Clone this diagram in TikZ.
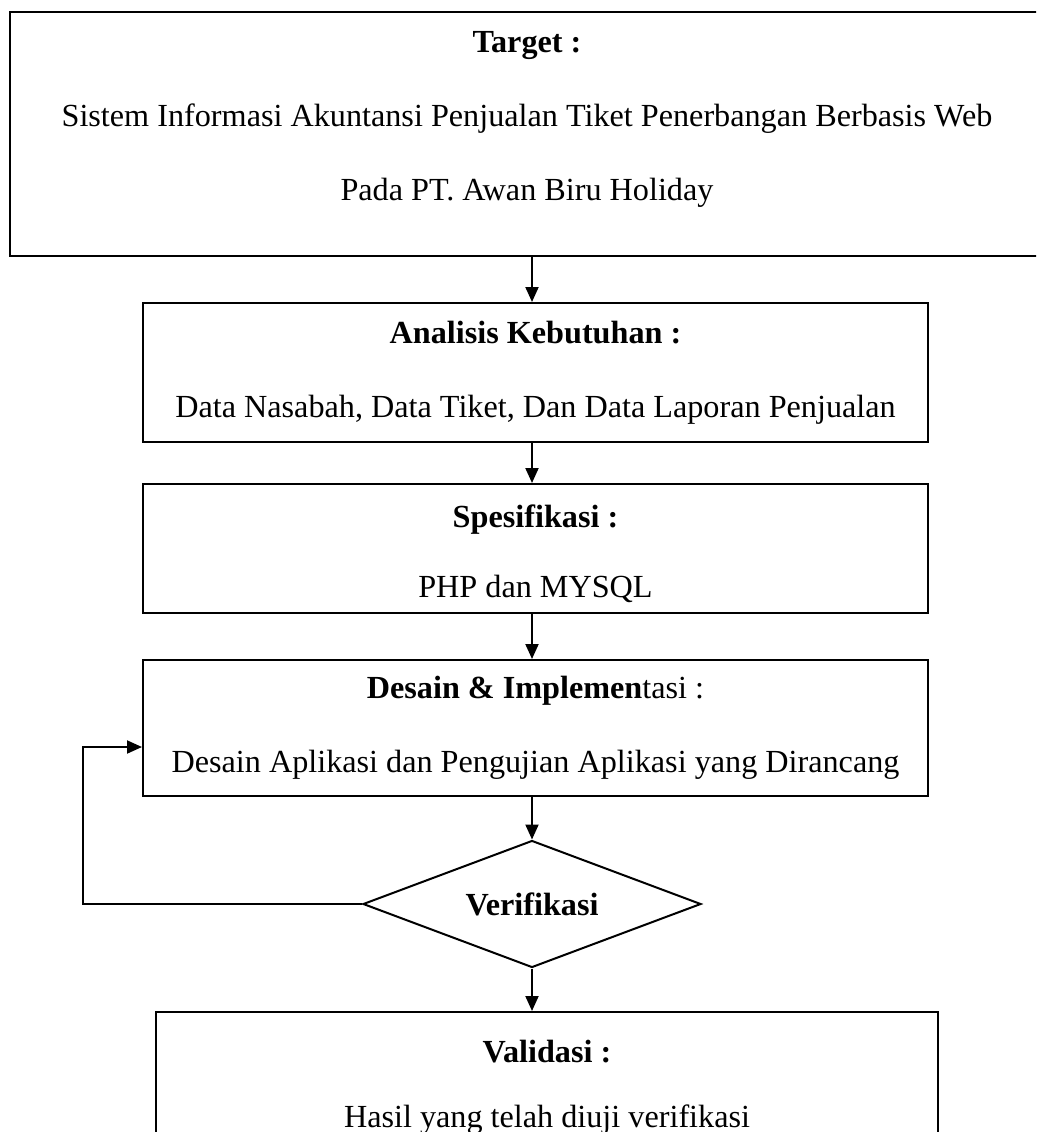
\documentclass[tikz,border=0pt]{standalone}
\usepackage{fontspec}
\setmainfont{Liberation Serif}
\usetikzlibrary{arrows.meta,shapes.geometric}
\begin{document}
\begin{tikzpicture}[>={Triangle[length=15pt,width=13pt]}, x=1pt, y=-1pt, line width=2pt,
  box/.style={draw, rectangle, align=center, inner sep=0pt, font=\fontsize{32.2}{74}\selectfont},
  decision/.style={draw, diamond, aspect=2.66, inner sep=0pt, font=\fontsize{32.2}{40}\selectfont\bfseries}]
\useasboundingbox (0,0) rectangle (1036,1132);
\clip (0,0) rectangle (1036,1132);
% kotak-kotak tahapan
\node[box, minimum width=1034pt, minimum height=244pt](target) at (527,134)
  {\textbf{Target :}\\Sistem Informasi Akuntansi Penjualan Tiket Penerbangan Berbasis Web\\Pada PT. Awan Biru Holiday\rule[-36pt]{0pt}{0pt}};
\node[box, minimum width=785pt, minimum height=139pt](analisis) at (535.5,372.5)
  {\textbf{Analisis Kebutuhan :}\\Data Nasabah, Data Tiket, Dan Data Laporan Penjualan};
\node[box, minimum width=785pt, minimum height=129pt](spesifikasi) at (535.5,548.5)
  {\rule{0pt}{34pt}\textbf{Spesifikasi :}\\[-4pt]PHP dan MYSQL};
\node[box, minimum width=785pt, minimum height=136pt](desain) at (535.5,728)
  {\textbf{Desain \& Implemen}tasi :\\Desain Aplikasi dan Pengujian Aplikasi yang Dirancang};
\node[decision, minimum width=338pt, minimum height=127pt](verif) at (532,904) {Verifikasi};
\node[box, minimum width=782pt, minimum height=145pt](validasi) at (547,1084.5)
  {\rule{0pt}{28pt}\textbf{Validasi :}\\[-9pt]Hasil yang telah diuji verifikasi};
\coordinate (loop) at (83,747);
% panah
\draw[->](target.south -| verif.north)--(analisis.north -| verif.north);
\draw[->](analisis.south -| verif.north)--(spesifikasi.north -| verif.north);
\draw[->](spesifikasi.south -| verif.north)--(desain.north -| verif.north);
\draw[->](desain.south -| verif.north)--(verif.north);
\draw[->](verif.south)--(validasi.north -| verif.south);
\draw[->](verif.west)-|(loop)--(desain.west |- loop);
\end{tikzpicture}
\end{document}
